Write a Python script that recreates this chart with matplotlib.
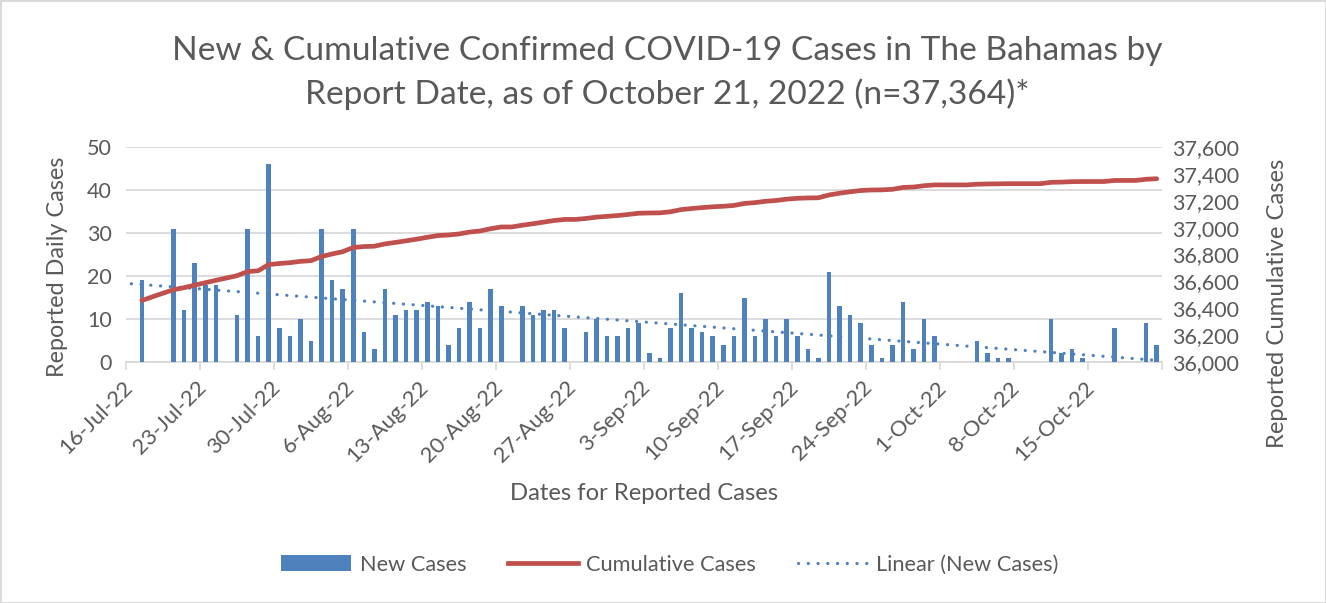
import numpy as np
import pandas as pd
import matplotlib
matplotlib.use("Agg")
import matplotlib.pyplot as plt
import matplotlib.dates as mdates
from matplotlib.ticker import FuncFormatter, MultipleLocator, FixedLocator
from matplotlib.patches import Rectangle
from matplotlib.lines import Line2D

# ---------------- data ----------------
start_date = "2022-07-16"
axis_end_date = "2022-10-22"

# daily new cases, 16-Jul-22 .. 21-Oct-22 (0 = no bar)
new_cases = [
    0, 19, 0, 0, 31, 12, 23, 18, 18, 0,
    11, 31, 6, 46, 8, 6, 10, 5, 31, 19,
    17, 31, 7, 3, 17, 11, 12, 12, 14, 13,
    4, 8, 14, 8, 17, 13, 0, 13, 11, 12,
    12, 8, 0, 7, 10, 6, 6, 8, 9, 2,
    1, 8, 16, 8, 7, 6, 4, 6, 15, 6,
    10, 6, 10, 6, 3, 1, 21, 13, 11, 9,
    4, 1, 4, 14, 3, 10, 6, 0, 0, 0,
    5, 2, 1, 1, 0, 0, 0, 10, 2, 3,
    1, 0, 0, 8, 0, 0, 9, 4,
]

# cumulative cases, same days (first day has no value)
cumulative_cases = [
    np.nan, 36458, 36485, 36512, 36538, 36553, 36572, 36590, 36608, 36625,
    36642, 36673, 36679, 36725, 36733, 36739, 36749, 36754, 36785, 36804,
    36821, 36852, 36859, 36862, 36879, 36890, 36902, 36914, 36928, 36941,
    36945, 36953, 36967, 36975, 36992, 37005, 37005, 37018, 37029, 37041,
    37053, 37061, 37061, 37068, 37078, 37084, 37090, 37098, 37107, 37109,
    37110, 37118, 37134, 37142, 37149, 37155, 37159, 37165, 37180, 37186,
    37196, 37202, 37212, 37218, 37221, 37222, 37243, 37256, 37267, 37276,
    37280, 37281, 37285, 37299, 37302, 37312, 37318, 37318, 37318, 37318,
    37323, 37325, 37326, 37327, 37327, 37327, 37327, 37337, 37339, 37342,
    37343, 37343, 37343, 37351, 37351, 37351, 37360, 37364,
]

# linear trendline of new cases: value at first and last day
trend_values = [18.2, 0.4]

tick_dates = ["2022-07-16", "2022-07-23", "2022-07-30", "2022-08-06",
              "2022-08-13", "2022-08-20", "2022-08-27", "2022-09-03",
              "2022-09-10", "2022-09-17", "2022-09-24", "2022-10-01",
              "2022-10-08", "2022-10-15"]
tick_labels = ["16-Jul-22", "23-Jul-22", "30-Jul-22", "6-Aug-22",
               "13-Aug-22", "20-Aug-22", "27-Aug-22", "3-Sep-22",
               "10-Sep-22", "17-Sep-22", "24-Sep-22", "1-Oct-22",
               "8-Oct-22", "15-Oct-22"]

title_text = ("New & Cumulative Confirmed COVID-19 Cases in The Bahamas by\n"
              "Report Date, as of October 21, 2022 (n=37,364)*")
left_label = "Reported Daily Cases"
right_label = "Reported Cumulative Cases"
x_label = "Dates for Reported Cases"
legend_labels = ["New Cases", "Cumulative Cases", "Linear (New Cases)"]

# ---------------- styling ----------------
FONT = ["Lato", "DejaVu Sans"]
plt.rcParams["font.family"] = FONT
TXT = "#595959"
GRID = "#d9d9d9"
BLUE = "#4F81BD"
RED = "#C0504D"

W, H = 1326, 603
fig = plt.figure(figsize=(W / 100, H / 100), dpi=100)
fig.patch.set_facecolor("white")

L, R, T, B = 126, 1162, 147, 362
ax = fig.add_axes([L / W, 1 - B / H, (R - L) / W, (B - T) / H])
ax2 = ax.twinx()

day0 = mdates.date2num(pd.Timestamp(start_date))
days = pd.date_range(start_date, periods=len(new_cases))
centers = mdates.date2num(days) + 0.5

DOT = (0, (0.05, 3.0))
ax.bar(centers, new_cases, width=0.42, color=BLUE, linewidth=0, zorder=3)
ax.plot([centers[0], centers[-1]], trend_values, color=BLUE, lw=2.3,
        linestyle=DOT, dash_capstyle="round", zorder=4)
ax2.plot(centers, cumulative_cases, color=RED, lw=3.4,
         solid_capstyle="round", solid_joinstyle="round", zorder=5)

ax2.set_zorder(ax.get_zorder() + 1)
ax2.patch.set_visible(False)

ax.set_xlim(day0, mdates.date2num(pd.Timestamp(axis_end_date)))
ax.set_ylim(0, 50)
ax2.set_ylim(36000, 37600)

# y axes
ax.yaxis.set_major_locator(MultipleLocator(10))
ax2.yaxis.set_major_locator(MultipleLocator(200))
ax2.yaxis.set_major_formatter(FuncFormatter(lambda v, p: f"{int(v):,}"))
ax.grid(axis="y", color=GRID, lw=1.3, zorder=0)
ax.set_axisbelow(True)
ax.tick_params(axis="y", length=0, pad=10, labelsize=15.5, labelcolor=TXT)
ax2.tick_params(axis="y", length=0, pad=7, labelsize=15.5, labelcolor=TXT)

# x axis: tick marks at week boundaries, labels at day centres
tick_nums = list(mdates.date2num(pd.to_datetime(tick_dates)))
ax.xaxis.set_major_locator(FixedLocator(tick_nums + [mdates.date2num(pd.Timestamp(axis_end_date))]))
ax.xaxis.set_major_formatter(FuncFormatter(lambda v, p: ""))
ax.set_xticks([t + 0.3 for t in tick_nums], minor=True)
ax.set_xticklabels(tick_labels, minor=True, rotation=45, ha="right", va="center",
                   rotation_mode="anchor", fontsize=15.8, color=TXT)
ax.tick_params(axis="x", which="major", length=6, width=1.2, color=GRID, direction="out")
ax.tick_params(axis="x", which="minor", length=0, pad=16)

for a in (ax, ax2):
    for s in ("top", "left", "right", "bottom"):
        a.spines[s].set_visible(False)
ax.spines["bottom"].set_visible(True)
ax.spines["bottom"].set_color(GRID)
ax.spines["bottom"].set_linewidth(1.3)

# texts
fig.text(667 / W, 1 - 73 / H, title_text, ha="center", va="center",
         fontsize=24.1, color=TXT, linespacing=1.45)
fig.text(57 / W, 1 - 267 / H, left_label, rotation=90, ha="center",
         va="center", fontsize=16.8, color=TXT)
fig.text(1278 / W, 1 - 303 / H, right_label, rotation=90, ha="center",
         va="center", fontsize=17.2, color=TXT)
fig.text(644 / W, 1 - 493 / H, x_label, ha="center", va="center",
         fontsize=17.2, color=TXT)

handles = [Rectangle((0, 0), 1, 1, facecolor=BLUE, edgecolor="none"),
           Line2D([], [], color=RED, lw=3.4),
           Line2D([], [], color=BLUE, lw=2.3, linestyle=DOT,
                  dash_capstyle="round")]
fig.legend(handles, legend_labels, loc="center", bbox_to_anchor=(670 / W, 1 - 565 / H),
           ncol=3, frameon=False, fontsize=15.7, labelcolor=TXT,
           handlelength=3.2, handleheight=0.75, handletextpad=0.4,
           columnspacing=1.9)

fig.patches.append(Rectangle((0, 0), 1, 1, transform=fig.transFigure,
                             fill=False, edgecolor=GRID, lw=2))

fig.savefig("out.png", dpi=100)
